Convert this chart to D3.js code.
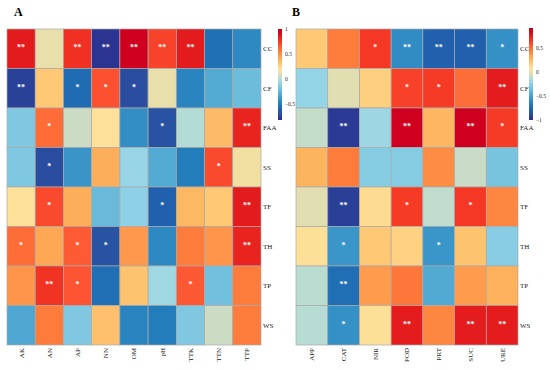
<!DOCTYPE html>
<html>
<head>
<meta charset="utf-8">
<script src="https://cdn.jsdelivr.net/npm/d3@7"></script>
<style>
  body { margin: 0; background: #fff; }
  svg { display: block; font-family: "Liberation Serif", "Times New Roman", serif; }
</style>
</head>
<body>
<div id="chart"></div>
<script>
// row traits (shared by both panels)
var rowsA = ["CC", "CF", "FAA", "SS", "TF", "TH", "TP", "WS"];
var colsA = ["AK", "AN", "AP", "NN", "OM", "pH", "TTK", "TTN", "TTP"];
var colsB = ["APP", "CAT", "NIR", "POD", "PRT", "SUC", "URE"];

// correlation values, one array per row
var valuesA = [
  [0.85, 0.12, 0.78, -0.80, 0.95, 0.72, 0.85, -0.55, -0.45],
  [-0.75, 0.30, -0.57, 0.68, -0.70, 0.12, -0.47, -0.30, -0.22],
  [-0.15, 0.60, 0.05, 0.20, -0.43, -0.68, 0.00, 0.35, 0.82],
  [-0.15, -0.70, -0.40, 0.40, -0.07, -0.30, -0.50, 0.70, 0.15],
  [0.20, 0.70, 0.40, -0.23, -0.10, -0.62, 0.36, 0.30, 0.85],
  [0.60, 0.42, 0.65, -0.68, 0.47, -0.45, 0.55, 0.48, 0.82],
  [0.48, 0.77, 0.67, -0.56, 0.32, -0.05, 0.66, -0.20, 0.55],
  [-0.32, 0.55, -0.15, 0.33, -0.47, -0.50, -0.15, 0.05, 0.55]
];
var starsA = [
  ["**", "", "**", "**", "**", "**", "**", "", ""],
  ["**", "", "*", "*", "*", "", "", "", ""],
  ["", "*", "", "", "", "*", "", "", "**"],
  ["", "*", "", "", "", "", "", "*", ""],
  ["", "*", "", "", "", "*", "", "", "**"],
  ["*", "", "*", "*", "", "", "", "", "**"],
  ["", "**", "*", "", "", "", "*", "", ""],
  ["", "", "", "", "", "", "", "", ""]
];
var valuesB = [
  [0.17, 0.43, 0.64, -0.60, -0.79, -0.79, -0.58],
  [-0.23, -0.04, 0.14, 0.61, 0.63, 0.48, 0.74],
  [-0.11, -0.95, -0.20, 0.85, 0.24, 0.85, 0.63],
  [0.25, 0.43, -0.28, -0.28, 0.38, -0.10, -0.33],
  [-0.04, -0.93, 0.09, 0.63, -0.12, 0.64, 0.40],
  [0.07, -0.56, 0.17, 0.13, -0.56, 0.19, -0.27],
  [-0.13, -0.73, 0.34, 0.45, -0.46, 0.34, 0.26],
  [-0.14, -0.58, 0.07, 0.74, 0.40, 0.74, 0.74]
];
var starsB = [
  ["", "", "*", "**", "**", "**", "*"],
  ["", "", "", "*", "*", "", "**"],
  ["", "**", "", "**", "", "**", "*"],
  ["", "", "", "", "", "", ""],
  ["", "**", "", "*", "", "*", ""],
  ["", "*", "", "", "*", "", ""],
  ["", "**", "", "", "", "", ""],
  ["", "*", "", "**", "", "**", "**"]
];
var rangeA = [-0.82, 1.0];
var rangeB = [-1.0, 0.9];
var ticksA = [1, 0.5, 0, -0.5];
var ticksB = [0.5, 0, -0.5, -1];

// colormap (position along the bar -> colour)
var cmapPos = [0, 0.07, 0.11, 0.165, 0.22, 0.29, 0.34, 0.41, 0.45, 0.49, 0.52, 0.56, 0.615, 0.66, 0.7, 0.75, 0.81, 0.86, 0.92, 0.97, 1];
var cmapCol = ["#2b2f8e", "#2a4fa0", "#2160ac", "#1f78b8", "#3590c6", "#55acd4", "#72c0dd", "#95d5e8", "#b4dcd6", "#d6dcbc", "#ecdfa8",
  "#fde19a", "#fec875", "#fdb35e", "#fe9e4f", "#fd7e3c", "#fe5a35", "#f53a25", "#e31a1c", "#d0001f", "#c4001f"];
var cmap = d3.scaleLinear().domain(cmapPos).range(cmapCol).interpolate(d3.interpolateRgb).clamp(true);

var W = 550, H = 369;
var svg = d3.select("#chart").append("svg").attr("width", W).attr("height", H);
var defs = svg.append("defs");

function panel(opt) {
  var g = svg.append("g");
  var x = d3.scaleBand().domain(opt.cols).range([opt.x0, opt.x1]);
  var y = d3.scaleBand().domain(rowsA).range([29, 345]);
  var norm = d3.scaleLinear().domain(opt.range).range([0, 1]);

  var cells = [];
  opt.values.forEach(function(row, i) {
    row.forEach(function(v, j) {
      cells.push({ r: rowsA[i], c: opt.cols[j], v: v, s: opt.stars[i][j] });
    });
  });

  g.selectAll("rect.cell")
    .data(cells)
    .enter()
    .append("rect")
    .attr("class", "cell")
    .attr("x", function(d) { return x(d.c); })
    .attr("y", function(d) { return y(d.r); })
    .attr("width", x.bandwidth())
    .attr("height", y.bandwidth())
    .style("fill", function(d) { return cmap(norm(d.v)); })
    .style("stroke", "#a9a9a9")
    .style("stroke-width", "0.7px");

  g.selectAll("text.star")
    .data(cells.filter(function(d) { return d.s; }))
    .enter()
    .append("text")
    .attr("class", "star")
    .attr("x", function(d) { return x(d.c) + x.bandwidth() / 2; })
    .attr("y", function(d) { return y(d.r) + y.bandwidth() / 2 + 1.5; })
    .attr("text-anchor", "middle")
    .style("fill", "#ffffff")
    .style("font-size", "8px")
    .style("font-weight", "bold")
    .text(function(d) { return d.s; });

  // row labels on the right
  var ay = g.append("g")
    .attr("transform", "translate(" + opt.x1 + ",0)")
    .call(d3.axisRight(y).tickSize(0).tickPadding(2));
  ay.select(".domain").remove();
  ay.selectAll("text").style("font-size", "7px").style("font-family", "Liberation Serif, serif").style("fill", "#222");

  // column labels underneath, rotated
  var ax = g.append("g")
    .attr("transform", "translate(0,345)")
    .call(d3.axisBottom(x).tickSize(0));
  ax.select(".domain").remove();
  ax.selectAll("text")
    .attr("transform", "rotate(-90)")
    .attr("x", -3)
    .attr("y", 0)
    .attr("dy", "0.35em")
    .attr("text-anchor", "end")
    .style("font-size", "7px")
    .style("font-family", "Liberation Serif, serif")
    .style("fill", "#222");

  // panel letter
  g.append("text")
    .attr("x", opt.lx)
    .attr("y", 16)
    .style("font-size", "12px")
    .style("font-weight", "bold")
    .style("fill", "#000")
    .text(opt.letter);

  // colour bar
  var grad = defs.append("linearGradient")
    .attr("id", "grad" + opt.letter)
    .attr("x1", "0%").attr("x2", "0%")
    .attr("y1", "100%").attr("y2", "0%");
  d3.range(0, 1.0001, 0.02).forEach(function(t) {
    grad.append("stop").attr("offset", (t * 100) + "%").style("stop-color", cmap(t));
  });
  g.append("rect")
    .attr("x", opt.cbx)
    .attr("y", opt.cby0)
    .attr("width", 4)
    .attr("height", opt.cby1 - opt.cby0)
    .style("fill", "url(#grad" + opt.letter + ")");
  var cb = d3.scaleLinear().domain(opt.range).range([opt.cby1, opt.cby0]);
  var acb = g.append("g")
    .attr("transform", "translate(" + (opt.cbx + 4) + ",0)")
    .call(d3.axisRight(cb).tickValues(opt.ticks).tickSize(0).tickPadding(3).tickFormat(d3.format("~g")));
  acb.select(".domain").remove();
  acb.selectAll("text").style("font-size", "5.5px").style("font-family", "Liberation Serif, serif").style("fill", "#222");
}

panel({ letter: "A", cols: colsA, values: valuesA, stars: starsA, range: rangeA, ticks: ticksA,
  x0: 7, x1: 261, lx: 14, cbx: 278, cby0: 29, cby1: 120 });
panel({ letter: "B", cols: colsB, values: valuesB, stars: starsB, range: rangeB, ticks: ticksB,
  x0: 296, x1: 518, lx: 292, cbx: 529, cby0: 28, cby1: 120 });
</script>
</body>
</html>
